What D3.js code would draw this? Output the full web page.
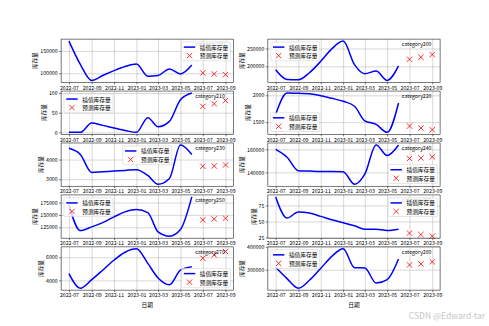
<!DOCTYPE html>
<html><head><meta charset="utf-8">
<script src="https://cdn.jsdelivr.net/npm/d3@7"></script>
<style>
body{margin:0;background:#fff}
svg{display:block}
text{font-family:"Noto Sans CJK SC","Noto Sans",sans-serif}
</style>
</head><body>
<svg id="c" width="489" height="326"></svg>
<script>
// ---------- data ----------
const months = ["2022-07-01","2022-08-01","2022-09-01","2022-10-01","2022-11-01","2022-12-01",
                "2023-01-01","2023-02-01","2023-03-01","2023-04-01","2023-05-01","2023-06-01"];
const predMonths = ["2023-07-01","2023-08-01","2023-09-01"];
const xTickLabels = ["2022-07","2022-09","2022-11","2023-01","2023-03","2023-05","2023-07","2023-09"];
const categories = ["category190","category200","category210","category220","category230",
                    "category240","category250","category260","category270","category280"];
const seriesNames = ["插值库存量","预测库存量"];
const yLabel = "库存量";
const xLabel = "日期";

const line190 = [172000,120000,84000,95000,106000,115000,120600,93400,95000,109500,98500,118400];
const pred190 = [100700,98500,97000];
const ticks190 = [100000,150000];

const line200 = [190600,163200,162300,182000,214000,249000,270800,204700,179200,186800,160400,201000];
const pred200 = [219800,225500,233000];
const ticks200 = [200000,250000];

const line210 = [0,0,23.7,17.8,11,5,0,37.3,14.4,28,83,100];
const pred210 = [66,73,81];
const ticks210 = [0,50,100];

const line220 = [1642,2043,2037,2031,1994,1944,1889,1796,1525,1457,1309,1858];
const pred220 = [1426,1389,1358];
const ticks220 = [1500,2000];

const line230 = [4569,4259,3345,3379,3414,3448,3483,3190,2741,3034,4741,4259];
const pred230 = [3655,3672,3724];
const ticks230 = [3000,4000];

const line240 = [160000,153200,141500,141200,140900,140900,140600,129700,138500,163800,154700,163800];
const pred240 = [152100,152400,153500];
const ticks240 = [140000,160000];

const line250 = [169600,118200,125700,134500,146000,156100,160800,154700,115500,106800,120300,186500];
const pred250 = [139900,141900,143200];
const ticks250 = [125000,150000,175000];

const line260 = [88.4,55.3,64.7,63.2,57.9,52.6,47.9,43.2,37.9,37.9,35.8,37.9];
const pred260 = [31.6,29.5,26.8];
const ticks260 = [25,50,75];

const line270 = [4588,3324,4059,4882,5765,6441,6735,5471,4206,3618,4882,5176];
const pred270 = [5912,6206,6500];
const ticks270 = [4000,6000];

const line280 = [310400,261200,219400,253700,306000,358200,391000,309000,307500,241800,256700,346300];
const pred280 = [320900,325400,334300];
const ticks280 = [300000,400000];

const lines = [line190,line200,line210,line220,line230,line240,line250,line260,line270,line280];
const preds = [pred190,pred200,pred210,pred220,pred230,pred240,pred250,pred260,pred270,pred280];
const yTicks = [ticks190,ticks200,ticks210,ticks220,ticks230,ticks240,ticks250,ticks260,ticks270,ticks280];
const legendLoc = ["upper right","upper left","upper left","lower left","upper center",
                   "lower right","upper left","upper right","lower right","upper left"];

// ---------- layout ----------
const W = 489, H = 326, fs = 5.7, tfs = 5.2;
const L = 0.125*W, R = 0.9*W, T = 0.12*H, B = 0.89*H;
const axW = (R-L)/2.2, axH = (B-T)/5.8;
const svg = d3.select("#c");
const parse = d3.utcParse("%Y-%m-%d");
const xDates = months.map(parse), pDates = predMonths.map(parse);
const x0 = +xDates[0], x1 = +pDates[pDates.length-1], span = x1 - x0;
const xTicks = xTickLabels.map(s => parse(s + "-01"));
const fmtX = d3.utcFormat("%Y-%m");

lines.forEach((vals, i) => {
  const col = i % 2, row = Math.floor(i / 2);
  const ax = L + col*axW*1.2, ay = T + row*axH*1.2;
  const x = d3.scaleUtc().domain([new Date(x0 - 0.05*span), new Date(x1 + 0.05*span)]).range([ax, ax+axW]);
  const all = vals.concat(preds[i]);
  const [mn, mx] = d3.extent(all), pad = (mx - mn)*0.05;
  const y = d3.scaleLinear().domain([mn - pad, mx + pad]).range([ay+axH, ay]);
  const g = svg.append("g");

  g.append("rect").attr("x", ax).attr("y", ay).attr("width", axW).attr("height", axH).attr("fill", "#fff");

  // grid
  const gx = g.append("g").attr("transform", `translate(0,${ay+axH})`)
    .call(d3.axisBottom(x).tickValues(xTicks).tickSize(-axH).tickFormat(""));
  const gy = g.append("g").attr("transform", `translate(${ax},0)`)
    .call(d3.axisLeft(y).tickValues(yTicks[i]).tickSize(-axW).tickFormat(""));
  [gx, gy].forEach(s => { s.select(".domain").remove(); s.selectAll("line").attr("stroke", "#b0b0b0").attr("stroke-width", 0.5); });

  // line
  const lineGen = d3.line().x((d, k) => x(xDates[k])).y(d => y(d)).curve(d3.curveMonotoneX);
  g.append("path").datum(vals).attr("d", lineGen).attr("fill", "none")
    .attr("stroke", "#0000ff").attr("stroke-width", 1.5);

  // predicted markers
  const h = 2.7;
  g.selectAll(".mk").data(preds[i]).enter().append("path")
    .attr("d", `M${-h},${-h}L${h},${h}M${-h},${h}L${h},${-h}`)
    .attr("transform", (d, k) => `translate(${x(pDates[k])},${y(d)})`)
    .attr("stroke", "#ff0000").attr("stroke-width", 0.8).attr("fill", "none");

  // frame
  g.append("rect").attr("x", ax).attr("y", ay).attr("width", axW).attr("height", axH)
    .attr("fill", "none").attr("stroke", "#222").attr("stroke-width", 0.6);

  // axes
  const xa = g.append("g").attr("transform", `translate(0,${ay+axH})`)
    .call(d3.axisBottom(x).tickValues(xTicks).tickFormat(fmtX).tickSize(2).tickPadding(1.5));
  const ya = g.append("g").attr("transform", `translate(${ax},0)`)
    .call(d3.axisLeft(y).tickValues(yTicks[i]).tickFormat(d3.format("d")).tickSize(2).tickPadding(1.5));
  [xa, ya].forEach(s => {
    s.select(".domain").remove();
    s.attr("font-family", null).attr("font-size", null);
    s.selectAll("line").attr("stroke", "#222").attr("stroke-width", 0.6);
    s.selectAll("text").attr("font-size", tfs).attr("fill", "#000");
  });

  // y label
  let maxW = 0;
  ya.selectAll("text").each(function(){ maxW = Math.max(maxW, this.getComputedTextLength()); });
  const lx = ax - 3.5 - maxW - 2.5 - fs*0.5;
  g.append("text").attr("transform", `translate(${lx},${ay+axH/2}) rotate(-90)`)
    .attr("text-anchor", "middle").attr("dominant-baseline", "central")
    .attr("font-size", fs).text(yLabel);

  // x label on bottom row
  if (row === 4) {
    g.append("text").attr("x", ax + axW/2).attr("y", ay + axH + 16.5)
      .attr("text-anchor", "middle").attr("font-size", fs).text(xLabel);
  }

  // category text
  g.append("text").attr("x", ax + 0.95*axW).attr("y", ay + 0.05*axH)
    .attr("text-anchor", "end").attr("dominant-baseline", "hanging")
    .attr("font-size", tfs).text(categories[i]);

  // legend
  const lw = fs*8.6, lh = fs*3.3, bp = fs*0.5;
  const loc = legendLoc[i];
  let lgx, lgy;
  if (loc.includes("right")) lgx = ax + axW - bp - lw;
  else if (loc.includes("left")) lgx = ax + bp;
  else lgx = ax + axW/2 - lw/2;
  lgy = loc.includes("upper") ? ay + bp : ay + axH - bp - lh;
  const lg = g.append("g");
  lg.append("rect").attr("x", lgx).attr("y", lgy).attr("width", lw).attr("height", lh).attr("rx", 1)
    .attr("fill", "#fff").attr("fill-opacity", 0.8).attr("stroke", "#ccc").attr("stroke-width", 0.5);
  const r1 = lgy + fs*0.4 + fs*0.5, r2 = r1 + fs*1.5;
  lg.append("line").attr("x1", lgx + fs*0.4).attr("x2", lgx + fs*2.4).attr("y1", r1).attr("y2", r1)
    .attr("stroke", "#0000ff").attr("stroke-width", 1.5);
  lg.append("path").attr("d", `M${-h},${-h}L${h},${h}M${-h},${h}L${h},${-h}`)
    .attr("transform", `translate(${lgx + fs*1.4},${r2})`)
    .attr("stroke", "#ff0000").attr("stroke-width", 0.8).attr("fill", "none");
  [r1, r2].forEach((ry, k) => {
    lg.append("text").attr("x", lgx + fs*3.2).attr("y", ry).attr("dominant-baseline", "central")
      .attr("font-size", fs).text(seriesNames[k]);
  });
});

// watermark
svg.append("text").attr("x", 485).attr("y", 319).attr("text-anchor", "end")
  .attr("font-size", 8.5).attr("fill", "#c8c8c8").text("CSDN @Edward-tar");
</script>
</body></html>
